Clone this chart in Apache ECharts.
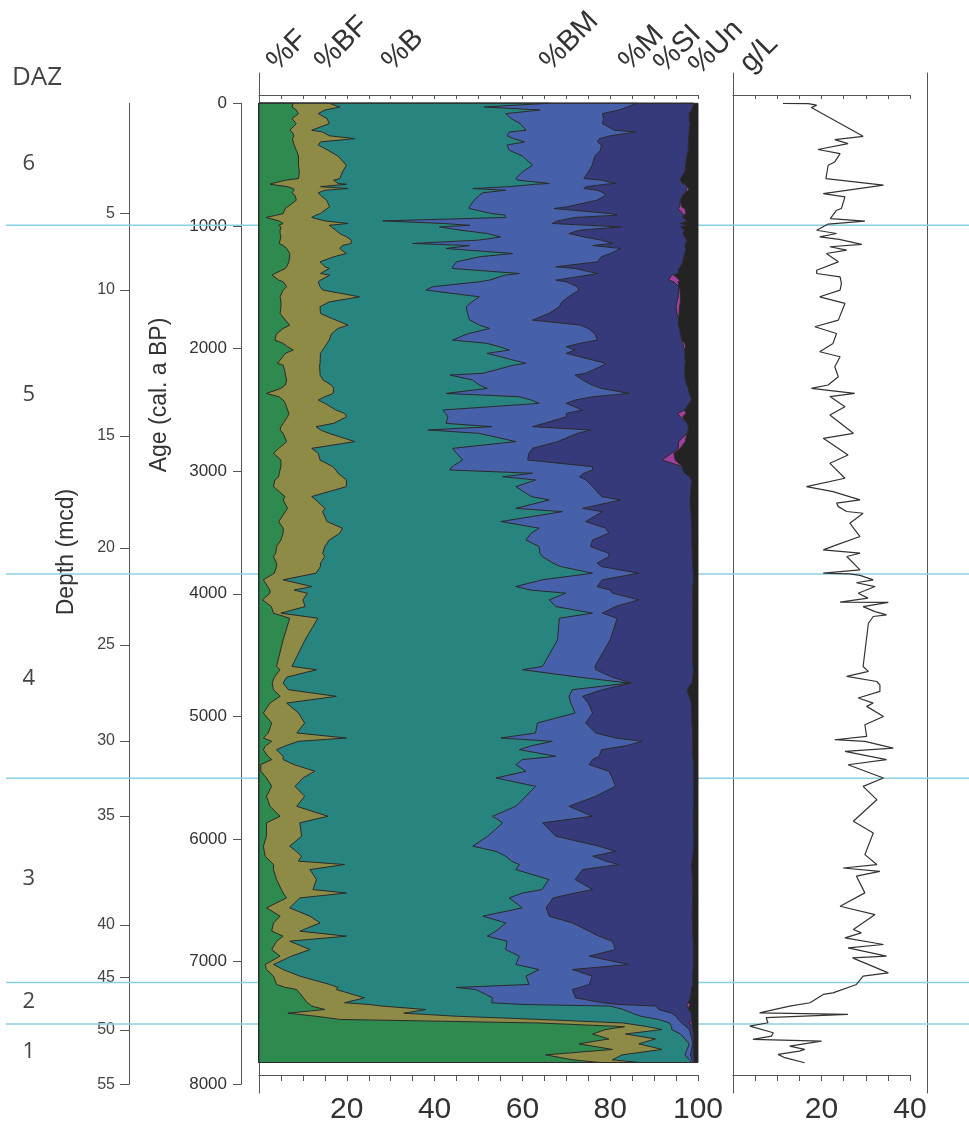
<!DOCTYPE html>
<html><head><meta charset="utf-8">
<script src="https://cdn.jsdelivr.net/npm/echarts@6/dist/echarts.min.js"></script>
<style>html,body{margin:0;padding:0;background:#fff}#c{width:969px;height:1127px}</style>
</head><body><div id="c"></div>
<script>
// ---- sample ages (cal. a BP) for the percentage diagram ----
const ages = [
 0,30,55,84,125,166,220,234,265,288,315,340,383,430,505,560,614,627,654,660,680,695,709,730,750,790,845,858,899,912,931,959,980,995,1008,1035,1062,1090,1116,1143,1160,1184,1225,1252,1293,1333,1347,1388,1401,1442,1456,1496,1523,1578,1620,1659,1714,1768,1809,1836,1880,1931,1958,1985,2012,2039,2121,2135,2202,2216,
 2257,2298,2325,2366,2393,2420,2447,2501,2529,2556,2610,2637,2664,2692,2759,2814,2854,2909,2963,2990,3017,3045,3072,3126,3207,3235,3303,3330,3411,3465,3506,3561,3615,3670,3696,3750,3778,3832,3886,3941,3970,3995,4049,4104,4158,4199,4375,4592,
 4619,4680,4728,4782,4836,4891,4972,5054,5135,5176,5203,5240,5271,5325,5352,5393,5447,5502,5570,5651,5733,5814,5868,5977,6058,6100,6140,6180,6208,
 6249,6330,6412,6440,6480,6561,6629,6684,6751,6792,6833,6901,6955,7023,7064,7118,7186,7210,7227,7295,7335,7349,7362,7390,7420,7445,7471,7500,7530,7553,7590,7630,7670,7716,7760,7800,7822
];
// cumulative upper edge (%) of each group
const topF = [
 7.8,7.5,8.5,9.0,7.5,8.5,7.0,7.5,8.0,7.6,7.8,8.0,8.5,9.0,9.0,9.2,9.0,6.0,3.0,2.5,6.5,7.8,8.0,7.5,8.2,8.5,6.5,6.0,5.5,4.0,1.6,4.5,5.5,4.5,5.0,4.8,4.8,5.0,4.8,4.6,5.5,6.3,7.0,7.0,6.8,6.3,6.0,3.6,3.0,4.5,5.5,6.3,5.5,4.8,5.0,5.0,4.8,6.0,7.0,5.5,4.0,3.6,5.5,6.5,7.8,6.0,4.2,5.5,6.0,6.0,
 6.3,6.0,5.0,1.7,4.5,5.5,6.0,6.5,6.8,6.5,5.5,5.0,4.8,5.5,6.3,4.5,3.3,5.0,5.0,4.8,4.6,4.5,3.6,3.3,5.9,5.5,6.5,6.0,4.5,5.5,5.5,5.0,4.0,3.8,3.3,4.0,4.0,3.5,1.0,2.0,2.5,2.5,0.8,2.8,3.3,7.0,5.5,4.0,
 4.8,3.5,3.0,3.3,4.8,2.5,1.0,2.9,2.1,1.0,2.9,1.5,1.0,2.0,2.9,0.4,0.4,1.7,2.9,1.7,2.5,4.8,1.7,1.7,1.0,1.2,1.4,2.5,3.3,
 3.3,4.0,5.1,5.5,6.3,1.7,4.8,3.3,2.9,5.5,4.0,2.9,4.8,1.4,1.7,3.3,4.0,6.0,8.6,10.1,11.0,11.6,12.0,15.0,6.6,13.0,18.4,63.8,83.3,79.0,76.0,79.7,72.9,80.5,65.3,71.4,77.4
];
const topBF = [
 16.0,18.4,15.0,13.5,15.5,16.0,12.0,14.5,16.0,21.8,14.0,13.5,15.7,18.0,19.9,19.0,18.4,17.0,18.0,19.9,14.0,20.3,15.0,13.5,14.0,15.4,16.1,15.5,14.0,13.0,12.0,15.0,20.3,16.0,16.5,17.5,18.4,20.0,21.0,21.0,19.0,18.4,19.9,17.0,13.9,15.0,16.0,14.0,16.1,14.0,13.5,13.9,14.5,22.9,16.0,13.9,14.0,17.5,20.3,18.0,16.5,16.0,15.5,15.0,14.5,14.0,13.9,13.8,13.9,13.9,
 14.6,16.5,17.0,16.9,15.0,13.5,15.0,17.5,19.5,20.0,17.0,13.0,14.0,16.0,21.8,12.0,13.5,13.9,16.8,17.5,18.0,19.0,19.9,19.9,12.0,13.0,15.0,14.5,15.5,19.0,18.4,16.0,15.0,14.5,15.0,14.0,14.0,13.0,5.5,12.0,8.0,11.0,10.0,10.5,5.0,13.4,10.5,7.5,
 13.1,6.3,5.5,6.7,17.6,6.3,9.0,10.4,8.6,19.9,9.0,6.0,4.0,5.5,5.5,8.0,12.7,10.0,8.2,10.4,8.6,15.7,9.3,9.7,7.0,8.5,9.7,9.0,19.5,
 11.6,13.1,12.3,19.9,9.3,7.0,11.6,13.9,9.3,19.9,7.0,11.6,7.4,3.3,5.5,9.3,16.1,18.0,17.6,24.0,19.5,25.0,28.0,38.0,33.0,45.0,64.0,83.0,88.5,91.8,83.5,90.3,86.5,91.8,82.7,80.5,86.5
];
const topB = [
 66.0,51.3,64.0,56.2,57.5,59.5,60.8,57.0,56.5,58.0,60.5,56.5,57.0,60.0,62.3,60.0,58.5,59.0,66.1,63.0,57.0,48.7,56.2,51.0,50.2,49.0,47.9,47.9,53.0,56.0,56.2,28.2,42.0,48.0,41.1,46.0,52.0,55.0,50.0,35.0,48.0,42.6,57.8,50.2,45.0,44.1,44.1,59.3,56.0,52.5,50.0,39.6,38.0,50.2,48.5,47.2,47.5,48.0,50.2,52.5,47.5,44.1,52.0,54.7,57.0,52.0,60.8,58.0,51.0,43.5,
 48.7,50.2,52.0,42.6,59.3,62.0,63.8,41.9,42.5,43.0,42.6,53.0,38.5,50.2,58.5,44.1,45.0,46.4,44.0,43.4,62.3,55.5,63.0,58.5,62.0,66.1,58.5,69.1,55.1,63.8,62.0,60.8,63.8,64.0,64.5,67.0,68.7,76.0,64.5,58.5,62.0,69.9,66.1,67.6,76.0,68.4,68.0,64.6,
 60.0,72.9,84.3,71.4,70.6,71.0,72.0,63.4,63.0,55.1,66.8,62.0,59.3,67.6,60.0,58.5,60.8,54.0,63.0,60.8,58.5,53.2,55.5,52.1,48.7,54.0,56.2,57.5,59.3,
 58.5,66.0,64.5,60.0,57.0,60.0,51.0,56.2,54.0,52.0,56.5,56.2,59.3,58.5,63.8,60.8,61.5,44.9,49.4,53.2,53.0,60.0,80.0,83.0,85.0,87.0,91.0,93.5,94.0,94.0,96.0,97.0,98.0,97.5,97.0,98.0,98.6
];
const topBM = [
 86.0,84.0,82.0,78.2,78.5,78.2,81.0,85.8,80.0,77.5,77.1,78.0,77.8,76.5,75.9,75.0,74.0,78.0,81.2,79.0,74.5,74.0,77.0,78.5,79.0,77.0,70.0,67.2,80.0,81.6,72.0,68.0,66.8,75.0,82.4,73.0,70.6,74.0,78.0,80.5,76.0,82.4,80.0,78.0,77.1,67.6,72.0,77.1,75.0,67.6,70.0,72.5,72.9,70.5,69.0,68.4,66.0,62.3,73.3,75.0,76.5,77.1,73.0,70.0,72.0,70.0,79.0,78.5,74.4,72.0,
 73.7,75.9,78.0,84.3,76.0,72.0,70.0,73.7,70.0,70.0,65.0,62.3,75.5,72.5,68.0,62.3,61.5,61.2,75.9,76.0,74.0,73.0,74.5,76.0,78.0,82.4,73.7,78.2,74.4,79.0,79.7,76.0,75.5,79.7,79.7,77.0,78.0,86.5,78.2,77.0,80.0,80.5,86.5,81.2,78.2,81.6,80.0,76.5,
 76.7,80.5,84.8,78.2,73.7,75.0,76.0,74.4,76.7,81.2,87.3,83.5,78.0,77.5,76.0,75.2,79.7,80.5,81.2,76.7,70.6,75.9,64.6,67.6,77.4,81.2,76.0,79.0,82.0,
 73.7,72.0,76.0,72.0,67.0,65.4,66.1,71.4,75.2,77.4,80.5,81.2,75.2,84.2,71.4,75.9,75.2,73.0,71.4,72.1,78.2,82.0,90.5,91.0,94.0,95.0,95.5,96.3,97.3,98.0,98.3,98.6,98.8,98.5,98.3,98.6,99.0
];
const topM = [
 99.0,98.8,98.5,98.0,98.0,98.2,98.0,98.0,97.9,97.9,97.8,97.8,97.8,97.5,97.2,97.0,96.0,96.0,96.5,97.0,97.5,97.3,97.4,97.0,96.5,96.0,95.8,95.5,96.5,96.8,96.5,97.5,96.0,97.5,96.0,97.0,96.5,97.0,97.5,97.2,97.0,97.2,97.0,96.8,96.5,96.0,95.6,95.5,94.0,93.3,94.5,95.6,95.6,95.5,95.2,95.0,95.2,95.6,95.5,95.8,96.0,96.3,96.5,96.7,97.0,97.0,97.1,97.0,97.0,97.0,
 97.1,97.5,97.8,98.0,98.3,98.5,98.0,97.0,95.3,96.0,97.5,97.8,97.8,97.5,95.6,95.5,94.0,91.8,96.5,96.5,97.0,98.0,98.6,98.4,98.3,98.2,98.2,98.4,98.5,98.6,98.6,98.6,98.6,98.7,98.7,98.8,98.8,98.9,99.0,98.8,98.8,98.8,98.8,98.8,98.8,98.8,98.8,98.8,
 99.0,98.8,98.6,97.5,98.0,98.5,98.6,98.6,98.8,98.8,98.8,98.8,98.8,98.8,98.9,99.0,99.0,99.0,99.0,99.0,99.0,98.9,98.9,99.0,99.0,98.9,98.8,98.7,98.5,
 98.6,98.8,98.8,98.8,98.8,98.7,98.7,98.8,98.8,98.8,98.9,98.9,98.9,98.9,98.9,98.8,98.8,98.5,98.5,98.3,97.8,97.5,97.5,97.8,98.5,98.5,98.6,98.0,98.7,98.8,99.0,99.0,99.0,99.0,99.0,99.1,99.3
];
// %SI (sea-ice) share, drawn on top of %M
const pctSI = [
 0,0,0,0,0,0,0,0,0,0,0,0,0,0,0,0,0,0,0,0,0,0.6,0.5,0,0,0,0.5,1.5,0.8,0,0,0,0,0,0,0,0,0,0,0,0,0,0,0,0,0,0,0,0.5,2.5,1.0,0,0.3,0.5,0.8,0.8,0.5,0,0,0,0,0,0.5,0.5,0,0,0,0,0,0,
 0,0,0,0,0,0,0,0,2.0,0.5,0,0,0,0,1.5,0.5,0.5,3.0,0,0,0,0,0,0,0,0,0,0,0,0,0,0,0,0,0,0,0,0,0,0,0,0,0,0,0,0,0,0,
 0,0,0,0,0,0,0,0,0,0,0,0,0,0,0,0,0,0,0,0,0,0,0,0,0,0,0,0,0,
 0,0,0,0,0,0,0,0,0,0,0,0,0,0,0,0,0,0,0,0,0,0.8,0.5,0,0,0,0,0.6,0,0,0,0,0,0,0,0,0
];
// ---- concentration (g/L) ----
const glAges = [0,3,15,35,269,296,329,377,410,478,505,614,668,736,763,858,872,940,961,985,1035,1062,1089,1110,1151,1170,1198,1225,1293,1361,1388,1415,1469,1524,1578,1632,1768,1822,1877,1958,2026,2067,2148,2230,2297,2325,2365,2392,2474,2542,2691,2732,2868,2936,3058,3126,3167,3234,3260,3289,3329,3343,3424,3533,3601,3642,3669,3696,3805,3832,3838,3850,3886,3910,3941,3995,4035,4068,4070,4105,4145,4172,4185,4240,4593,4633,4674,4715,4742,4796,4850,4891,4918,5000,5068,5163,5190,5204,5258,5285,5353,5394,5502,5570,5679,5855,5950,6127,6208,6236,6263,6303,6439,6548,6616,6738,6765,6806,6860,6887,6955,6969,7091,7118,7186,7254,7267,7335,7363,7417,7430,7457,7498,7526,7580,7607,7634,7648,7688,7715,7729,7756,7783,7824];
const glValues = [11.3,17.0,18.9,17.7,29.4,23.0,26.0,19.2,24.2,23.0,21.5,21.0,34.0,20.4,25.3,24.5,23.4,22.0,29.8,21.5,18.9,23.4,19.6,24.0,29.1,21.9,25.7,21.1,23.8,18.9,18.9,24.2,24.5,24.2,19.6,25.3,23.8,18.5,23.4,22.6,19.6,24.2,23.0,23.8,21.5,17.7,27.5,21.9,25.3,21.9,27.2,20.4,26.0,21.9,25.3,16.6,22.6,28.7,23.4,23.8,25.7,29.4,26.4,28.7,23.4,20.4,28.7,25.7,28.7,20.4,26.4,28.7,31.7,27.9,32.1,28.3,30.5,24.2,35.1,29.4,32.1,34.7,31.7,30.6,29.4,30.6,25.7,32.5,33.2,33.2,28.3,31.7,30.2,34.0,29.8,30.2,23.0,29.8,36.2,25.3,34.7,26.0,34.0,29.4,32.5,27.2,31.7,29.8,32.5,24.9,33.2,27.9,29.8,24.2,32.1,27.2,29.0,25.3,34.0,26.0,34.7,27.0,35.1,29.4,27.9,22.6,20.4,17.4,12.8,6.0,26.0,7.5,7.9,3.8,9.1,8.7,4.5,20.0,12.8,16.2,15.0,10.2,11.7,16.2];
// ---- axes / zones ----
const depthTickLabels = [5,10,15,20,25,30,35,40,45,50,55];
const depthTickAges = [897,1523,2713,3626,4417,5200,5812,6701,7131,7557,8000];
const zoneNames = ['6','5','4','3','2','1'];
const zoneLabelAges = [490,2380,4690,6320,7330,7735];
const zoneBoundaryAges = [995,3838,5504,7170,7508];
const groupLabels = ['%F','%BF','%B','%BM','%M','%SI','%Un','g/L'];

const FONT = '"Liberation Sans", Arial, sans-serif';
const AX = '#555';
const TOP = 103.3, H = 981;

const chart = echarts.init(document.getElementById('c'));
const topSI = topM.map((v, i) => v + pctSI[i]);
const topUn = ages.map(() => 100);
const layers = [
  {tops: topUn, color: '#232323'},
  {tops: topSI, color: '#a23e9d'},
  {tops: topM, color: '#363a7a'},
  {tops: topBM, color: '#4660aa'},
  {tops: topB, color: '#28847f'},
  {tops: topBF, color: '#8d8b45'},
  {tops: topF, color: '#2e8a4f'}
];
const layerSeries = layers.map((L) => ({
  type: 'custom', xAxisIndex: 5, yAxisIndex: 5, silent: true, z: 3,
  data: [[0, 0]],
  renderItem: (params, api) => {
    const pts = [api.coord([0, ages[0]])];
    for (let i = 0; i < ages.length; i++) pts.push(api.coord([L.tops[i], ages[i]]));
    pts.push(api.coord([0, ages[ages.length - 1]]));
    return {type: 'polygon', shape: {points: pts}, style: {fill: L.color, stroke: '#2a2a2a', lineWidth: 1}};
  }
}));

const hiddenX = (g) => ({type: 'value', gridIndex: g, show: false, min: 0, max: 1});
const hiddenY = (g) => ({type: 'value', gridIndex: g, show: false, min: 0, max: 8000, inverse: true});
const gridBase = {outerBoundsMode: 'none', containLabel: false};

const labelAnchors = [[282,76],[330,76],[397,76],[555,76],[634,76],[669,78],[704,80],[755,78]];
const labelGraphics = groupLabels.map((t, i) => ({
  type: 'text', x: labelAnchors[i][0], y: labelAnchors[i][1], rotation: Math.PI / 4,
  style: {text: t, fontSize: 29, fontFamily: FONT, fill: '#333', align: 'left', verticalAlign: 'bottom'}
}));

const bottomAxis = (g, max) => ({type: 'value', gridIndex: g, position: 'bottom', min: 0, max: max, interval: 5, offset: -9.3,
  axisLine: {onZero: false, lineStyle: {color: AX, width: 1}},
  axisTick: {length: 6, lineStyle: {color: AX}},
  axisLabel: {fontSize: 30, fontFamily: FONT, color: '#333', margin: 20,
    formatter: v => (v > 0 && v % 20 === 0) ? String(v) : ''},
  splitLine: {show: false}});
const topAxis = (g, max) => ({type: 'value', gridIndex: g, position: 'top', min: 0, max: max, interval: 5, offset: 8.3,
  axisLine: {onZero: false, lineStyle: {color: AX, width: 1}},
  axisTick: {inside: true, length: 4, lineStyle: {color: AX}},
  axisLabel: {show: false}, splitLine: {show: false}});
const frameY = (g, pos) => ({type: 'value', gridIndex: g, position: pos, min: 0, max: 1,
  axisLine: {onZero: false, lineStyle: {color: AX, width: 1}},
  axisTick: {show: false}, axisLabel: {show: false}, splitLine: {show: false}});

const option = {
  animation: false,
  backgroundColor: '#fff',
  grid: [
    Object.assign({left: 6, right: 0, top: TOP, height: H}, gridBase),          // 0 zone lines
    Object.assign({left: 0, width: 60, top: TOP, height: H}, gridBase),          // 1 zone names
    Object.assign({left: 129, width: 1, top: TOP, height: H}, gridBase),         // 2 depth
    Object.assign({left: 241, width: 1, top: TOP, height: H}, gridBase),         // 3 age
    Object.assign({left: 259, width: 439, top: 73, height: 1020}, gridBase),     // 4 main frame
    Object.assign({left: 259, width: 439, top: TOP, height: H}, gridBase),       // 5 main data
    Object.assign({left: 733, width: 194.5, top: 73, height: 1020}, gridBase),   // 6 g/L frame
    Object.assign({left: 733, width: 177, top: TOP, height: H}, gridBase)        // 7 g/L data
  ],
  xAxis: [
    hiddenX(0), hiddenX(1), hiddenX(2), hiddenX(3), hiddenX(4),
    bottomAxis(5, 100), topAxis(5, 100),
    hiddenX(6),
    bottomAxis(7, 40), topAxis(7, 40)
  ],
  yAxis: [
    hiddenY(0), hiddenY(1),
    {type: 'value', gridIndex: 2, position: 'left', min: 0, max: 8000, inverse: true,
     axisLine: {onZero: false, lineStyle: {color: AX, width: 1}},
     axisTick: {length: 9, lineStyle: {color: AX}, customValues: depthTickAges},
     axisLabel: {fontSize: 16, fontFamily: FONT, color: '#444', margin: 14, customValues: depthTickAges,
       formatter: v => { const i = depthTickAges.indexOf(v); return i >= 0 ? String(depthTickLabels[i]) : ''; }},
     splitLine: {show: false}},
    {type: 'value', gridIndex: 3, position: 'left', min: 0, max: 8000, interval: 1000, inverse: true,
     axisLine: {onZero: false, lineStyle: {color: AX, width: 1}},
     axisTick: {length: 8, lineStyle: {color: AX}},
     axisLabel: {fontSize: 17, fontFamily: FONT, color: '#333', margin: 14, formatter: v => String(v)},
     splitLine: {show: false}},
    frameY(4, 'left'),
    hiddenY(5),
    frameY(6, 'left'), frameY(6, 'right'),
    hiddenY(7)
  ],
  series: [
    {type: 'custom', xAxisIndex: 0, yAxisIndex: 0, silent: true, z: 1,
     data: zoneBoundaryAges.map(a => [0, a]),
     renderItem: (params, api) => {
       const y = api.coord([0, api.value(1)])[1];
       const cs = params.coordSys;
       return {type: 'line', shape: {x1: cs.x, y1: y, x2: cs.x + cs.width, y2: y},
               style: {stroke: '#8ccfe1', lineWidth: 1.6}};
     }},
    {type: 'custom', xAxisIndex: 1, yAxisIndex: 1, silent: true, z: 2,
     data: zoneLabelAges.map((a, i) => [0.48, a, i]),
     renderItem: (params, api) => {
       const p = api.coord([api.value(0), api.value(1)]);
       return {type: 'text', x: p[0], y: p[1],
               style: {text: zoneNames[api.value(2)], fontSize: 22, fontFamily: '"Open Sans", sans-serif',
                       fill: '#444', align: 'center', verticalAlign: 'middle'}};
     }},
    ...layerSeries,
    {type: 'line', xAxisIndex: 8, yAxisIndex: 8, z: 5, showSymbol: false, silent: true,
     data: glAges.map((a, i) => [glValues[i], a]),
     lineStyle: {color: '#333', width: 1.2}}
  ],
  graphic: [
    {type: 'text', x: 12, y: 78, style: {text: 'DAZ', fontSize: 26, fontFamily: '"Open Sans", sans-serif', fill: '#444', align: 'left', verticalAlign: 'middle'}},
    {type: 'text', x: 67, y: 552, rotation: Math.PI / 2, style: {text: 'Depth (mcd)', fontSize: 23, fontFamily: FONT, fill: '#333', align: 'center', verticalAlign: 'middle'}},
    {type: 'text', x: 160, y: 395, rotation: Math.PI / 2, style: {text: 'Age (cal. a BP)', fontSize: 23, fontFamily: FONT, fill: '#333', align: 'center', verticalAlign: 'middle'}},
    ...labelGraphics
  ]
};
chart.setOption(option);
</script>
</body></html>
